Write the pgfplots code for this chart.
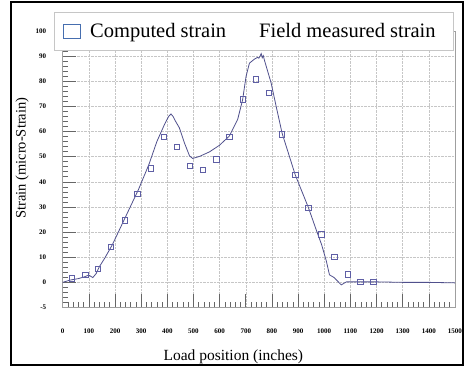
\documentclass[border=0pt]{standalone}
\usepackage{fontspec}
\setmainfont{Liberation Serif}
\usepackage{pgfplots}
\pgfplotsset{compat=1.18}
\definecolor{lineblue}{RGB}{80,80,140}
\definecolor{sqblue}{RGB}{95,95,165}
\definecolor{legblue}{RGB}{70,110,175}
\begin{document}
\begin{tikzpicture}
\begin{axis}[
  at={(0,0)}, anchor=south west,
  width=392.3pt, height=276.5pt, scale only axis,
  xmin=0, xmax=1500, ymin=-10, ymax=100,
  xtick={0,100,...,1500},
  ytick={-10,0,10,20,30,40,50,60,70,80,90,100},
  yticklabels={-5,0,10,20,30,40,50,60,70,80,90,100},
  minor x tick num=4, minor y tick num=4,
  tick align=inside, tick pos=left,
  major tick length=13pt, minor tick length=5pt,
  grid=major, grid style={densely dotted, gray!45},
  axis line style={gray!75},
  tick style={black!60, line width=0.6pt},
  ticklabel style={font=\fontsize{7}{8}\selectfont\bfseries},
  /pgf/number format/assume math mode=true,
  /pgf/number format/1000 sep={},
  scaled x ticks=false,
  xticklabel style={anchor=center, yshift=-23.5pt},
  yticklabel style={anchor=east, xshift=-13pt},
  xlabel={Load position (inches)},
  xlabel style={at={(axis description cs:0.435,-0.177)}, anchor=center, font=\fontsize{15.5}{18}\selectfont},
  ylabel={Strain (micro-Strain)},
  ylabel style={at={(axis description cs:-0.1037,0.54)}, anchor=center, font=\fontsize{14.5}{17}\selectfont},
  legend columns=2,
  legend cell align=left,
  legend style={at={(1,1)}, anchor=north east, xshift=-0.8pt, yshift=19.3pt,
    draw=gray!45, line width=1pt, fill=white, inner sep=0pt,
    font=\fontsize{20.5}{24}\selectfont, nodes={inner sep=0pt}, column sep=0pt},
]
\addplot[only marks, mark=square, mark size=2.7pt, sqblue, mark options={line width=0.7pt, solid},
  legend image code/.code={\draw[legblue, line width=1pt, fill=none] (0pt,-7pt) rectangle (17pt,7pt); \path[draw=none, fill=none] (-9pt,-19.15pt) rectangle (27pt,19.15pt);}]
coordinates {
(36,1.6) (87,2.9) (135,5.3) (185,14.2) (237,24.6) (286,35.2) (337,45.3)
(386,58.0) (437,53.9) (487,46.4) (537,44.8) (588,48.9) (637,58.0)
(688,72.8) (738,80.7) (789,75.5) (839,58.9) (889,42.8) (940,29.6)
(989,19.1) (1039,10.2) (1091,3.2) (1138,0.3) (1188,0.3)
};
\addlegendentry{Computed strain}
\addplot[lineblue, line width=0.8pt, mark=none,
  legend image code/.code={\path[draw=none, fill=none] (0pt,0pt) rectangle (33pt,0pt);}]
coordinates {
(0,0) (28,0.9) (60,1.5) (83,2.2) (100,2.9) (115,1.9) (128,3.5) (140,6.2)
(160,9.5) (190,15) (240,26) (290,37) (330,47) (360,56) (390,63) (405,66)
(414,67) (422,66) (432,64) (446,61.5) (465,55.6) (485,50.3) (497,49.3)
(523,50.1) (561,51.9) (599,54.5) (637,58.2) (669,64.8) (688,72.7)
(701,81.9) (714,87.2) (733,88.8) (745,89.5) (750,89.2) (755,90.1)
(759,91) (763,89.4) (767,90.2) (771,88.5) (784,83.9) (797,79.3)
(816,70.1) (839,59.3) (889,42.8) (940,29.6) (969,21) (990,15) (1008,8.5)
(1020,3) (1038,1.9) (1065,-1) (1085,0.2) (1200,0.2) (1300,0) (1400,0)
(1500,-0.2)
};
\addlegendentry{Field measured strain\mbox{\hspace{18pt}}}
\end{axis}
\draw[line width=2pt, black] (-51.2pt,-57.5pt) rectangle (399.8pt,305pt);
\pgfresetboundingbox
\path (-62.7pt,-59.5pt) rectangle (401.3pt,307.5pt);
\end{tikzpicture}
\end{document}
